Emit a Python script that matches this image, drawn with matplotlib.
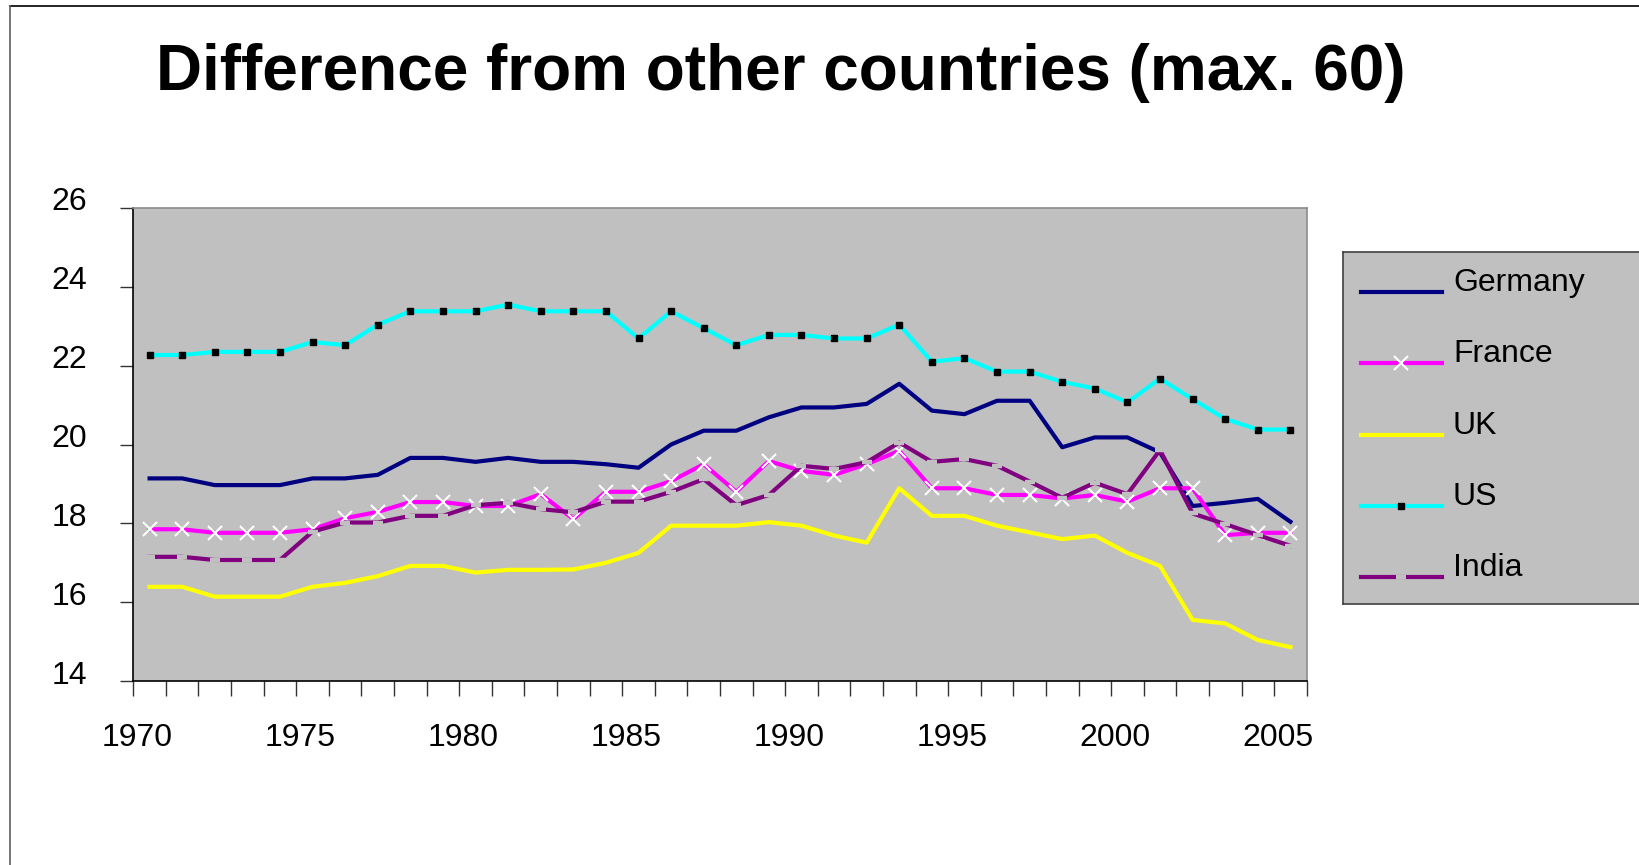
import matplotlib
matplotlib.use("Agg")

import matplotlib.pyplot as plt
import matplotlib.transforms as mtransforms
from matplotlib.lines import Line2D
import numpy as np

plt.rcParams['font.family'] = ['Liberation Sans', 'DejaVu Sans']

# data
years = list(range(1970, 2006))
germany = [19.14, 19.14, 18.97, 18.97, 18.97, 19.14, 19.14, 19.23, 19.66, 19.66, 19.56, 19.66, 19.56,
           19.56, 19.50, 19.41, 20.00, 20.35, 20.35, 20.69, 20.94, 20.94, 21.03, 21.54, 20.86,
           20.77, 21.11, 21.11, 19.93, 20.18, 20.18, 19.80, 18.44, 18.52, 18.62, 18.04]
france = [17.85, 17.85, 17.76, 17.76, 17.76, 17.85, 18.13, 18.29, 18.54, 18.54, 18.44, 18.44, 18.74,
          18.11, 18.80, 18.80, 19.07, 19.50, 18.80, 19.58, 19.33, 19.23, 19.50, 19.84, 18.89,
          18.89, 18.72, 18.72, 18.63, 18.72, 18.55, 18.89, 18.89, 17.70, 17.76, 17.76]
uk = [16.39, 16.39, 16.14, 16.14, 16.14, 16.39, 16.49, 16.66, 16.92, 16.92, 16.75, 16.82, 16.82,
      16.83, 17.00, 17.25, 17.94, 17.94, 17.94, 18.03, 17.94, 17.69, 17.51, 18.89, 18.19,
      18.19, 17.94, 17.77, 17.60, 17.69, 17.25, 16.92, 15.55, 15.46, 15.04, 14.86]
us = [22.27, 22.27, 22.35, 22.35, 22.35, 22.60, 22.52, 23.04, 23.38, 23.38, 23.38, 23.55, 23.38,
      23.38, 23.38, 22.69, 23.38, 22.95, 22.52, 22.78, 22.78, 22.69, 22.69, 23.04, 22.10,
      22.19, 21.85, 21.85, 21.59, 21.42, 21.07, 21.67, 21.15, 20.65, 20.38, 20.38]
india = [17.15, 17.15, 17.07, 17.07, 17.07, 17.79, 18.02, 18.02, 18.19, 18.19, 18.46, 18.52, 18.36,
         18.28, 18.55, 18.55, 18.80, 19.12, 18.46, 18.72, 19.46, 19.38, 19.55, 20.05, 19.56,
         19.63, 19.46, 19.06, 18.65, 19.03, 18.74, 19.86, 18.25, 17.98, 17.70, 17.43]
yticks = [14, 16, 18, 20, 22, 24, 26]
title = "Difference from other countries (max. 60)"

W, H = 1639, 865
BG = '#C0C0C0'
fig = plt.figure(figsize=(W / 100, H / 100), dpi=100)

# outer chart border (top and left visible)
fig.add_artist(Line2D([9.5 / W, 1], [1 - 5.5 / H, 1 - 5.5 / H], transform=fig.transFigure, color='black', lw=1.2))
fig.add_artist(Line2D([9.5 / W, 9.5 / W], [1 - 5.5 / H, 0], transform=fig.transFigure, color='#606060', lw=1.2))

fig.text(780.5 / W, 1 - 90 / H, title, ha='center', va='baseline', fontsize=46, fontweight='bold')

ax = fig.add_axes([133.3 / W, 1 - 681 / H, (1306.7 - 133.3) / W, (681 - 208) / H])
ax.set_facecolor(BG)
x = np.arange(len(years))

styles = [
    ("Germany", germany, dict(color='#000080')),
    ("France", france, dict(color='#FF00FF', marker='x', ms=10.5, mec='white', mew=1.5)),
    ("UK", uk, dict(color='#FFFF00')),
    ("US", us, dict(color='#00FFFF', marker='s', ms=3.8, mfc='black', mec='black')),
    ("India", india, dict(color='#800080', marker='_', ms=7.5, mec=BG, mew=3.2)),
]
for name, vals, kw in styles:
    ax.plot(x, vals, lw=3, solid_joinstyle='round', **kw)

ax.set_xlim(-0.5, len(years) - 0.5)
ax.set_ylim(14, 26)
ax.set_yticks(yticks)
ax.set_yticklabels([str(v) for v in yticks])
bounds = np.arange(-0.5, len(years), 1.0)
ax.set_xticks(bounds)
ax.set_xticklabels([str(years[0] + k) if k % 5 == 0 else '' for k in range(len(bounds))])

ax.tick_params(axis='y', direction='out', length=9.5, width=1, color='#333333', labelsize=23, pad=24)
ax.tick_params(axis='x', direction='out', length=10.5, width=1, color='#333333', labelsize=23, pad=20)

for lab in ax.get_yticklabels():
    lab.set_transform(lab.get_transform() + mtransforms.ScaledTranslation(0, 9 / 100, fig.dpi_scale_trans))
for lab in ax.get_xticklabels():
    lab.set_transform(lab.get_transform() + mtransforms.ScaledTranslation(4 / 100, 0, fig.dpi_scale_trans))

for s in ['left', 'bottom']:
    ax.spines[s].set_color('black')
    ax.spines[s].set_linewidth(1.2)
for s in ['top', 'right']:
    ax.spines[s].set_color('#8c8c8c')
    ax.spines[s].set_linewidth(1.2)

# legend box, coordinates in pixels from the top-left corner
lx0, ly0, lx1, ly1 = 1343.3, 251.7, 1660, 604
leg = fig.add_axes([lx0 / W, 1 - ly1 / H, (lx1 - lx0) / W, (ly1 - ly0) / H])
leg.set_xlim(lx0, lx1)
leg.set_ylim(ly1, ly0)
leg.set_facecolor(BG)
leg.set_xticks([])
leg.set_yticks([])
for s in leg.spines.values():
    s.set_color('#404040')
    s.set_linewidth(1.2)

for k, (name, vals, kw) in enumerate(styles):
    yy = 292.3 + 71.1 * k
    line_kw = {key: v for key, v in kw.items() if key not in ('marker', 'ms', 'mec', 'mew', 'mfc')}
    leg.plot([1361, 1442], [yy, yy], lw=3, **line_kw)
    if 'marker' in kw:
        leg.plot([1401.5], [yy], lw=0, **{key: v for key, v in kw.items() if key != 'color'})
    leg.text(1453, yy - 1, name, va='baseline', ha='left', fontsize=23)

fig.savefig('out.png', dpi=100)
